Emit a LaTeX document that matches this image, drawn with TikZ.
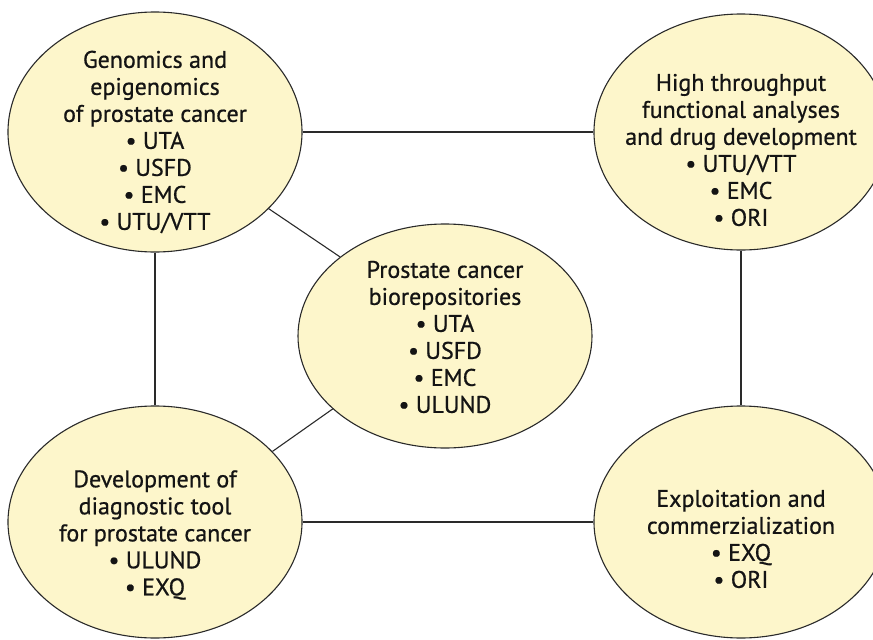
\documentclass[tikz,border=0pt]{standalone}
\usepackage{fontspec}
\setmainfont{PT Sans}[FakeBold=0.7]
\usetikzlibrary{shapes.geometric}
\definecolor{bubfill}{HTML}{FDF6CB}
\definecolor{bubline}{HTML}{2A2A2A}
\begin{document}
\begin{tikzpicture}[x=1pt,y=-1pt,
  bub/.style={ellipse, draw=bubline, line width=1.1pt, fill=bubfill, inner sep=0pt},
  txt/.style={align=center, font=\fontsize{24}{27}\selectfont, text=black!92},
  conn/.style={draw=bubline, line width=1.1pt}]
\useasboundingbox (0,0) rectangle (873,640);
\clip (0,0) rectangle (873,640);
\node[bub, minimum width=294pt, minimum height=240pt] (g) at (155,132) {};
\node[bub, minimum width=294pt, minimum height=236pt] (h) at (741,132) {};
\node[bub, minimum width=294pt, minimum height=224pt] (c) at (445,336) {};
\node[bub, minimum width=294pt, minimum height=232pt] (d) at (155,522) {};
\node[bub, minimum width=294pt, minimum height=232pt] (e) at (741,522) {};
\draw[conn] (g) -- (h);
\draw[conn] (d) -- (e);
\draw[conn] (g) -- (d);
\draw[conn] (h) -- (e);
\draw[conn] (g.-34) -- (c.143);
\draw[conn] (d.31) -- (c.213);
\node[txt] (gt) at (155,142) {Genomics and\\epigenomics\\of prostate cancer\\\textbullet\ UTA\\\textbullet\ USFD\\\textbullet\ EMC\\\textbullet\ UTU/VTT};
\node[txt] (ht) at (741,150) {High throughput\\functional analyses\\and drug development\\\textbullet\ UTU/VTT\\\textbullet\ EMC\\\textbullet\ ORI};
\node[txt] (ct) at (445,337) {Prostate cancer\\biorepositories\\\textbullet\ UTA\\\textbullet\ USFD\\\textbullet\ EMC\\\textbullet\ ULUND};
\node[txt] (dt) at (155,535) {Development of\\diagnostic tool\\for prostate cancer\\\textbullet\ ULUND\\\textbullet\ EXQ};
\node[txt] (et) at (741,539) {Exploitation and\\commerzialization\\\textbullet\ EXQ\\\textbullet\ ORI};
\end{tikzpicture}
\end{document}
